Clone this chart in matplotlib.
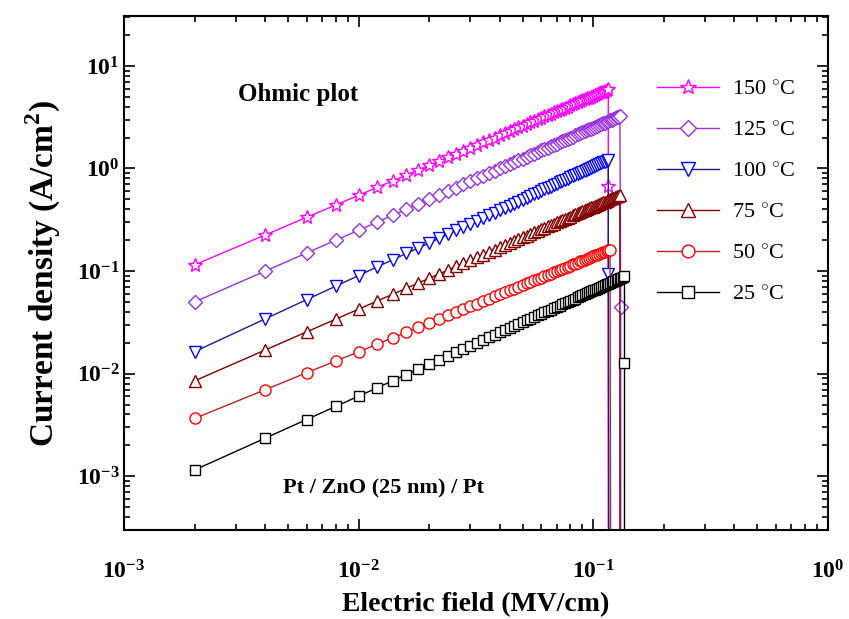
import math
import matplotlib
matplotlib.use("Agg")
import matplotlib.pyplot as plt
from matplotlib.ticker import LogLocator, FuncFormatter, NullFormatter

# electric field (MV/cm), step 0.002
field = [0.002, 0.004, 0.006, 0.008, 0.010, 0.012, 0.014, 0.016, 0.018, 0.020,
         0.022, 0.024, 0.026, 0.028, 0.030, 0.032, 0.034, 0.036, 0.038, 0.040,
         0.042, 0.044, 0.046, 0.048, 0.050, 0.052, 0.054, 0.056, 0.058, 0.060,
         0.062, 0.064, 0.066, 0.068, 0.070, 0.072, 0.074, 0.076, 0.078, 0.080,
         0.082, 0.084, 0.086, 0.088, 0.090, 0.092, 0.094, 0.096, 0.098, 0.100,
         0.102, 0.104, 0.106, 0.108, 0.110, 0.112, 0.114, 0.116, 0.118, 0.120,
         0.122, 0.124, 0.126, 0.128, 0.130, 0.132, 0.134, 0.136]

# current density (A/cm2)
j_150 = [0.115, 0.225, 0.334, 0.441, 0.548, 0.654, 0.759, 0.864, 0.969, 1.07,
         1.18, 1.28, 1.38, 1.49, 1.59, 1.69, 1.80, 1.90, 2.00, 2.10,
         2.20, 2.31, 2.41, 2.51, 2.61, 2.71, 2.81, 2.91, 3.01, 3.12,
         3.22, 3.32, 3.42, 3.52, 3.62, 3.72, 3.82, 3.92, 4.02, 4.12,
         4.22, 4.32, 4.42, 4.52, 4.62, 4.72, 4.82, 4.92, 5.01, 5.11,
         5.21, 5.31, 5.41, 5.51, 5.61, 5.71, 5.81, 5.91]
j_125 = [0.05, 0.10, 0.15, 0.20, 0.25, 0.30, 0.35, 0.40, 0.45, 0.50,
         0.55, 0.60, 0.65, 0.70, 0.75, 0.80, 0.85, 0.90, 0.95, 1.00,
         1.05, 1.10, 1.15, 1.20, 1.25, 1.30, 1.35, 1.40, 1.45, 1.50,
         1.55, 1.60, 1.65, 1.70, 1.75, 1.80, 1.85, 1.90, 1.95, 2.00,
         2.05, 2.10, 2.15, 2.20, 2.25, 2.30, 2.35, 2.40, 2.45, 2.50,
         2.55, 2.60, 2.65, 2.70, 2.75, 2.80, 2.85, 2.90, 2.95, 3.00,
         3.05, 3.10, 3.15, 3.20, 3.25]
j_100 = [0.0164, 0.0342, 0.0526, 0.0713, 0.0903, 0.110, 0.129, 0.149, 0.168, 0.188,
         0.208, 0.228, 0.249, 0.269, 0.289, 0.310, 0.330, 0.351, 0.372, 0.393,
         0.413, 0.434, 0.455, 0.476, 0.497, 0.518, 0.540, 0.561, 0.582, 0.603,
         0.625, 0.646, 0.667, 0.689, 0.710, 0.732, 0.753, 0.775, 0.797, 0.818,
         0.840, 0.862, 0.883, 0.905, 0.927, 0.949, 0.971, 0.993, 1.01, 1.04,
         1.06, 1.08, 1.10, 1.12, 1.15, 1.17, 1.19, 1.21]
j_75 = [0.0085, 0.017, 0.0255, 0.034, 0.0425, 0.051, 0.0595, 0.068, 0.0765, 0.085,
        0.0935, 0.102, 0.111, 0.119, 0.128, 0.136, 0.145, 0.153, 0.162, 0.170,
        0.179, 0.187, 0.196, 0.204, 0.213, 0.221, 0.230, 0.238, 0.247, 0.255,
        0.264, 0.272, 0.281, 0.289, 0.298, 0.306, 0.315, 0.323, 0.332, 0.340,
        0.349, 0.357, 0.366, 0.374, 0.383, 0.391, 0.400, 0.408, 0.417, 0.425,
        0.434, 0.442, 0.451, 0.459, 0.468, 0.476, 0.485, 0.493, 0.502, 0.510,
        0.519, 0.527, 0.536, 0.544, 0.553]
j_50 = [0.00366, 0.00697, 0.0102, 0.0133, 0.0163, 0.0194, 0.0224, 0.0253, 0.0282, 0.0312,
        0.0340, 0.0369, 0.0398, 0.0426, 0.0454, 0.0482, 0.0510, 0.0538, 0.0566, 0.0594,
        0.0621, 0.0649, 0.0676, 0.0703, 0.0730, 0.0757, 0.0785, 0.0812, 0.0838, 0.0865,
        0.0892, 0.0919, 0.0945, 0.0972, 0.0999, 0.103, 0.105, 0.108, 0.110, 0.113,
        0.116, 0.118, 0.121, 0.124, 0.126, 0.129, 0.131, 0.134, 0.137, 0.139,
        0.142, 0.144, 0.147, 0.149, 0.152, 0.155, 0.157, 0.160, 0.162]
j_25 = [0.00115, 0.00235, 0.00357, 0.00480, 0.00603, 0.00728, 0.00853, 0.00979, 0.0111, 0.0123,
        0.0136, 0.0149, 0.0161, 0.0174, 0.0187, 0.0200, 0.0213, 0.0226, 0.0239, 0.0252,
        0.0265, 0.0278, 0.0291, 0.0304, 0.0317, 0.0330, 0.0343, 0.0356, 0.0369, 0.0382,
        0.0395, 0.0408, 0.0421, 0.0435, 0.0448, 0.0461, 0.0474, 0.0487, 0.0501, 0.0514,
        0.0527, 0.0540, 0.0554, 0.0567, 0.0580, 0.0593, 0.0607, 0.0620, 0.0633, 0.0647,
        0.0660, 0.0673, 0.0687, 0.0700, 0.0713, 0.0727, 0.0740, 0.0753, 0.0767, 0.0780,
        0.0794, 0.0807, 0.0820, 0.0834, 0.0847, 0.0861, 0.0874, 0.0887]

# breakdown drop at the end of each sweep
tail_150_x, tail_150_y = [0.116, 0.116], [0.67, 1e-6]
tail_125_x, tail_125_y = [0.131, 0.131], [0.045, 1e-6]
tail_100_x, tail_100_y = [0.116, 0.117], [0.094, 1e-6]
tail_75_x, tail_75_y = [0.130], [1e-6]
tail_50_x, tail_50_y = [0.119], [1e-6]
tail_25_x, tail_25_y = [0.136, 0.136], [0.0128, 1e-6]

labels = ["150 $^{\\circ}$C", "125 $^{\\circ}$C", "100 $^{\\circ}$C",
          "75 $^{\\circ}$C", "50 $^{\\circ}$C", "25 $^{\\circ}$C"]

plt.rcParams['font.family'] = ['Liberation Serif', 'DejaVu Serif']
plt.rcParams['mathtext.fontset'] = 'custom'
plt.rcParams['mathtext.rm'] = 'Liberation Serif'
plt.rcParams['mathtext.bf'] = 'Liberation Serif:bold'

fig = plt.figure(figsize=(8.49, 6.19), dpi=100)
ax = fig.add_axes([0.146, 0.144, 0.829, 0.830])

series = [
    (j_150, tail_150_x, tail_150_y, '#ff00ff', '#ff00ff', '*', 10),
    (j_125, tail_125_x, tail_125_y, '#9a30e0', '#9a30e0', 'D', 7),
    (j_100, tail_100_x, tail_100_y, '#1a1a90', '#0000ff', 'v', 9),
    (j_75, tail_75_x, tail_75_y, '#800000', '#800000', '^', 9),
    (j_50, tail_50_x, tail_50_y, '#c02020', '#ff0000', 'o', 8),
    (j_25, tail_25_x, tail_25_y, '#000000', '#000000', 's', 7),
]

handles = []
for (j, tx, ty, lc, mc, mk, ms), lab in zip(series, labels):
    xs = field[:len(j)] + tx
    ys = j + ty
    h, = ax.plot(xs, ys, color=lc, lw=1.0, marker=mk, ms=ms,
                 mfc='white', mec=mc, mew=1.0, label=lab)
    handles.append(h)

ax.set_xscale('log')
ax.set_yscale('log')
ax.set_xlim(1e-3, 1)
ax.set_ylim(3e-4, 30.6)

fmt = FuncFormatter(lambda v, p: r'$\mathbf{10^{%d}}$' % round(math.log10(v)))
ax.xaxis.set_major_locator(LogLocator(base=10, numticks=10))
ax.yaxis.set_major_locator(LogLocator(base=10, numticks=10))
ax.xaxis.set_minor_locator(LogLocator(base=10, subs=range(2, 10), numticks=20))
ax.yaxis.set_minor_locator(LogLocator(base=10, subs=range(2, 10), numticks=20))
ax.xaxis.set_major_formatter(fmt)
ax.yaxis.set_major_formatter(fmt)
ax.xaxis.set_minor_formatter(NullFormatter())
ax.yaxis.set_minor_formatter(NullFormatter())

ax.tick_params(which='both', direction='in', top=True, right=True, width=1.2)
ax.tick_params(which='major', length=8, labelsize=17)
ax.tick_params(which='minor', length=4)
ax.tick_params(axis='x', which='major', pad=22)
ax.tick_params(axis='y', which='major', pad=3)
for sp in ax.spines.values():
    sp.set_linewidth(1.5)

ax.set_xlabel("Electric field (MV/cm)", fontsize=20, fontweight='bold', labelpad=6)
ax.set_ylabel("Current density (A/cm$^\\mathbf{2}$)", fontsize=24, fontweight='bold', labelpad=10)

ax.text(0.248, 0.848, "Ohmic plot", transform=ax.transAxes, fontsize=18,
        fontweight='bold', ha='center', va='center')
ax.text(0.369, 0.080, "Pt / ZnO (25 nm) / Pt", transform=ax.transAxes, fontsize=16,
        fontweight='bold', ha='center', va='center')

ax.legend(handles=handles, loc='upper left', bbox_to_anchor=(0.757, 0.877),
          frameon=False, fontsize=16, handlelength=2.8, handletextpad=0.6,
          labelspacing=0.92, borderpad=0, borderaxespad=0, markerscale=1.15)

fig.savefig("out.png", dpi=100)
